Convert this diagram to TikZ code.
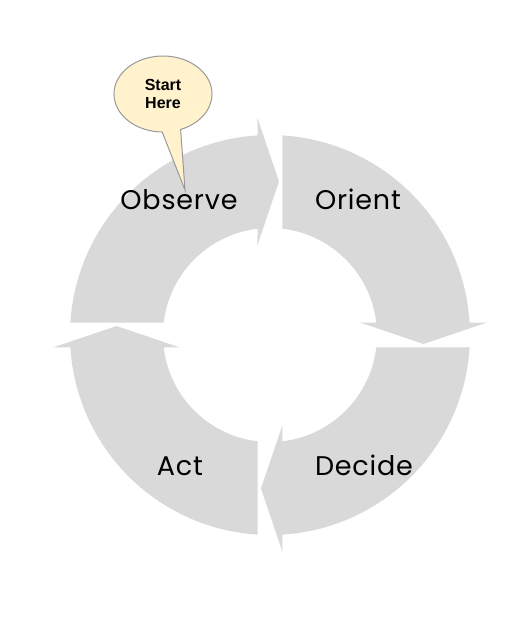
\documentclass[tikz,border=0pt]{standalone}
\usepackage{fontspec}
\setmainfont{Poppins}[LetterSpace=3]
\newfontfamily\calloutfont{Liberation Sans}
\usetikzlibrary{shapes.callouts}
\definecolor{loopgray}{HTML}{D9D9D9}
\definecolor{calloutfill}{HTML}{FFF2CC}
\definecolor{calloutline}{HTML}{999999}
\begin{document}
\begin{tikzpicture}
			\tikzstyle{seg} = [fill=loopgray]
			\tikzstyle{lbl} = [anchor=base, font=\fontsize{27}{32}\selectfont]
			\tikzstyle{bubble} = [ellipse callout, draw=calloutline, fill=calloutfill, line width=1pt,
				minimum width=98pt, minimum height=76pt, inner sep=0pt, callout pointer arc=22,
				align=center, font=\calloutfont\bfseries\fontsize{16}{18}\selectfont]
			\useasboundingbox (-270pt,-289pt) rectangle (242pt,335pt);
			% one quarter of the loop, turned round four times
			\foreach \rot in {0,-90,-180,-270}
				\fill[seg, rotate=\rot]
					({180-asin(12.5/200)}:200pt)
					arc[start angle={180-asin(12.5/200)}, end angle={90+asin(12.5/200)}, radius=200pt]
					-- (-12.5pt,217pt) -- (9pt,153.5pt) -- (-12.5pt,90pt)
					-- ({90+asin(12.5/107)}:107pt)
					arc[start angle={90+asin(12.5/107)}, end angle={180-asin(12.5/107)}, radius=107pt]
					-- cycle;
			\node[lbl] (observe) at (-91pt,125pt) {Observe};
			\node[lbl] (orient) at (88pt,125pt) {Orient};
			\node[lbl] (decide) at (94pt,-140pt) {Decide};
			\node[lbl] (act) at (-90pt,-140pt) {Act};
			\coordinate (tip) at (-85pt,145pt);
			\node[bubble, callout absolute pointer={(tip)}] (start) at (-107pt,241pt) {Start\\Here};
		\end{tikzpicture}
\end{document}
